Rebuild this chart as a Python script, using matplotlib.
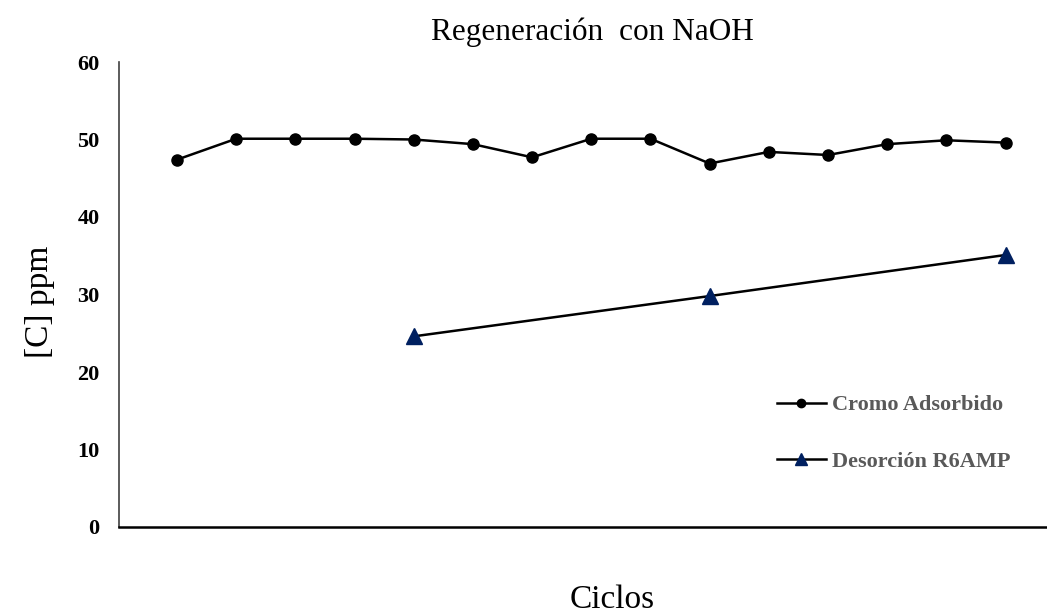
import matplotlib
matplotlib.use('Agg')
import matplotlib.pyplot as plt

# cycle numbers and measured concentrations (ppm)
ciclos = list(range(1, 16))
cromo_adsorbido = [47.4, 50.1, 50.1, 50.1, 50.0, 49.4, 47.7, 50.1,
                   50.1, 46.9, 48.4, 48.0, 49.4, 49.9, 49.6]
ciclos_desorcion = [5, 10, 15]
desorcion_r6amp = [24.6, 29.8, 35.1]

SERIF = ['Liberation Serif', 'DejaVu Serif']
NAVY = '#002060'


def main():
    plt.rcParams['font.family'] = SERIF

    fig = plt.figure(figsize=(10.47, 6.14), dpi=100)
    ax = fig.add_axes([119 / 1047, 1 - 527 / 614, 1 - 119 / 1047, (527 - 62) / 614])

    ax.plot(ciclos, cromo_adsorbido, color='black', lw=1.8, marker='o',
            markersize=8, label='Cromo Adsorbido', zorder=3)
    ax.plot(ciclos_desorcion, desorcion_r6amp, color='black', lw=1.8, marker='^',
            markersize=11, markerfacecolor=NAVY, markeredgecolor=NAVY,
            label='Desorción R6AMP', zorder=3)

    ax.set_xlim(0.02, 15.7)
    ax.set_ylim(0, 60)
    ax.set_yticks(range(0, 61, 10))
    ax.set_xticks([])
    ax.tick_params(axis='y', length=0, pad=14, labelsize=16)
    for lbl in ax.get_yticklabels():
        lbl.set_fontweight('bold')

    for side in ['top', 'right']:
        ax.spines[side].set_visible(False)
    ax.spines['left'].set_color('#404040')
    ax.spines['left'].set_linewidth(1.2)
    ax.spines['bottom'].set_color('black')
    ax.spines['bottom'].set_linewidth(1.8)

    leg = ax.legend(loc='upper left', frameon=False, fontsize=16,
                    handlelength=2.2, handletextpad=0.3, labelspacing=1.6,
                    borderaxespad=0, markerscale=0.75)
    leg.set_bbox_to_anchor((768 / 1047, 1 - 386 / 614), transform=fig.transFigure)
    for txt in leg.get_texts():
        txt.set_color('#595959')
        txt.set_fontweight('bold')

    fig.text(592 / 1047, 1 - 32 / 614, 'Regeneración  con NaOH',
             ha='center', va='center', fontsize=22.5)
    fig.text(612 / 1047, 1 - 600 / 614, 'Ciclos', ha='center', va='center', fontsize=24)
    fig.text(40 / 1047, 1 - 302 / 614, '[C] ppm', ha='center', va='center',
             rotation=90, fontsize=24)

    fig.savefig('out.png', dpi=100)
    plt.close(fig)


if __name__ == '__main__':
    main()
